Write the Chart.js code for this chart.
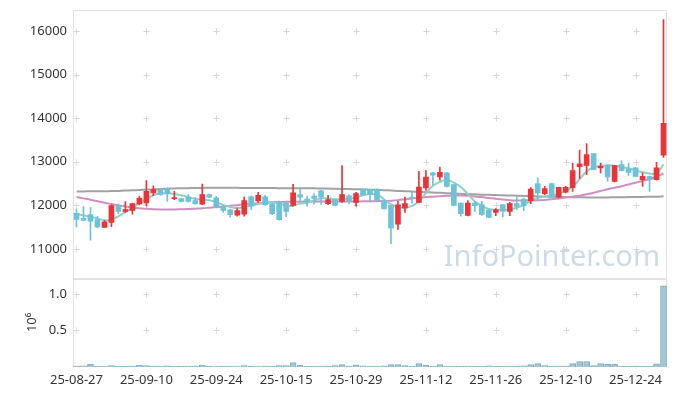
<!DOCTYPE html>
<html><head><meta charset="utf-8">
<script src="https://cdn.jsdelivr.net/npm/chart.js@4/dist/chart.umd.min.js"></script>
<style>html,body{margin:0;padding:0;background:#fff;}#wrap{width:677px;height:396px;position:relative;}</style>
</head><body><div id="wrap"><canvas id="c" width="677" height="396"></canvas></div>
<script>
const dates = ["25-08-27","25-08-28","25-08-29","25-09-01","25-09-02","25-09-03","25-09-04","25-09-05","25-09-08","25-09-09",
"25-09-10","25-09-11","25-09-12","25-09-15","25-09-16","25-09-17","25-09-18","25-09-19","25-09-22","25-09-23",
"25-09-24","25-09-25","25-09-26","25-09-29","25-09-30","25-10-01","25-10-02","25-10-10","25-10-13","25-10-14",
"25-10-15","25-10-16","25-10-17","25-10-20","25-10-21","25-10-22","25-10-23","25-10-24","25-10-27","25-10-28",
"25-10-29","25-10-30","25-10-31","25-11-03","25-11-04","25-11-05","25-11-06","25-11-07","25-11-10","25-11-11",
"25-11-12","25-11-13","25-11-14","25-11-17","25-11-18","25-11-19","25-11-20","25-11-21","25-11-24","25-11-25",
"25-11-26","25-11-27","25-11-28","25-12-01","25-12-02","25-12-03","25-12-04","25-12-05","25-12-08","25-12-09",
"25-12-10","25-12-11","25-12-12","25-12-15","25-12-16","25-12-17","25-12-18","25-12-19","25-12-22","25-12-23",
"25-12-24","25-12-26","25-12-29","25-12-30","26-01-02"];

const openP = [11820,11700,11790,11672,11495,11610,11993,11862,11885,12032,
12055,12285,12345,12375,12155,12155,12185,12110,12030,12245,
12170,11965,11900,11775,11800,12200,12100,12195,12030,12090,
12050,12000,12245,12145,12210,12335,12040,12130,12090,12220,
12070,12375,12360,12375,12108,12000,11570,11940,12190,12070,
12400,12745,12650,12745,12475,12055,11770,12055,12016,11900,
11840,12016,11862,12040,12145,12108,12500,12270,12500,12190,
12300,12405,12890,12917,13186,12858,12917,12550,12933,12835,
12858,12590,12665,12590,13150];
const highP = [11920,11970,11950,11750,11650,12015,12032,12085,12055,12210,
12566,12450,12380,12400,12320,12165,12245,12185,12490,12260,
12205,11993,11917,11940,12190,12210,12300,12230,12040,12100,
12060,12480,12380,12210,12270,12345,12230,12140,12910,12240,
12300,12380,12370,12380,12120,12000,12090,12190,12310,12780,
12800,12760,12880,12750,12480,12060,12110,12090,12090,11910,
11925,12020,12070,12205,12160,12410,12630,12435,12510,12420,
12435,12970,13270,13415,13190,12972,12933,12920,13020,12972,
12870,12743,12670,12986,16260];
const lowP = [11500,11650,11200,11480,11490,11510,11803,11840,11800,12010,
11990,12220,12230,12090,12130,12080,12075,12030,12015,12175,
11963,11840,11725,11750,11750,11900,12070,12000,11785,11660,
11740,11980,12090,11980,12030,12020,12015,11990,12070,12040,
11980,12240,12080,12080,11910,11120,11450,11840,12050,12055,
12340,12475,12575,12420,11990,11750,11760,11862,11770,11710,
11765,11735,11765,11900,11880,12040,12108,12245,12170,12170,
12285,12320,12620,12704,12810,12743,12550,12540,12790,12681,
12650,12436,12321,12580,13100];
const closeP = [11680,11655,11635,11505,11620,11995,11862,11905,12040,12160,
12320,12360,12245,12260,12180,12090,12090,12040,12245,12185,
11977,11885,11787,11880,12110,11990,12230,12015,11810,11670,
11862,12290,12185,12090,12160,12190,12130,12000,12245,12110,
12270,12245,12245,12130,11925,11482,12010,12040,12165,12420,
12650,12690,12755,12435,12000,11810,12055,11995,11787,11725,
11900,11862,12040,11977,11993,12375,12285,12385,12185,12415,
12415,12795,12950,13163,12819,12894,12651,12910,12796,12757,
12665,12665,12590,12858,13880];

const ma5 = [11800,11770,11740,11700,11660,11670,11750,11850,11940,12050,
12140,12230,12270,12285,12260,12230,12190,12150,12130,12120,
12070,12010,11960,11940,11960,11990,12030,12060,12060,12040,
11990,11990,12040,12060,12110,12160,12160,12140,12140,12150,
12180,12230,12260,12250,12140,12020,11970,11940,11990,12090,
12280,12450,12540,12590,12520,12420,12260,12090,11990,11920,
11900,11900,11900,11950,12000,12110,12170,12200,12230,12260,
12330,12430,12600,12780,12870,12910,12920,12910,12880,12850,
12800,12760,12730,12730,12940];
const ma20 = [12190,12160,12130,12095,12060,12030,12000,11975,11950,11935,
11920,11910,11905,11903,11905,11910,11915,11925,11935,11948,
11960,11975,11990,12005,12020,12035,12050,12060,12070,12075,
12080,12083,12085,12088,12090,12090,12090,12090,12090,12090,
12090,12092,12095,12098,12100,12108,12120,12140,12160,12175,
12190,12200,12210,12218,12225,12225,12220,12205,12190,12170,
12150,12135,12120,12112,12110,12112,12115,12125,12140,12160,
12180,12200,12220,12255,12290,12330,12370,12405,12440,12480,
12520,12560,12600,12660,12730];
const ma60 = [12320,12320,12322,12323,12325,12328,12332,12338,12345,12352,
12360,12368,12375,12382,12388,12392,12395,12398,12400,12402,
12403,12403,12402,12401,12400,12400,12399,12398,12396,12395,
12393,12392,12391,12390,12390,12388,12385,12382,12378,12374,
12370,12365,12360,12354,12348,12340,12332,12325,12318,12310,
12302,12295,12288,12280,12273,12265,12258,12252,12246,12241,
12236,12231,12226,12221,12216,12211,12206,12201,12197,12193,
12190,12187,12185,12183,12182,12182,12183,12185,12187,12189,
12191,12194,12197,12200,12208];

const volume = [12000,15000,37000,9000,7000,18000,11000,8000,9000,22000,
21000,9000,10000,17000,9000,10000,9000,12000,22000,8000,
6000,10000,9000,7000,18000,8000,7000,11000,10000,18000,
20000,62000,22000,10000,9000,10000,8000,18000,32000,10000,
28000,17000,9000,10000,16000,32000,32000,20000,10000,46000,
22000,10000,32000,10000,11000,9000,10000,8000,9000,16000,
8000,9000,10000,12000,17000,32000,46000,20000,10000,9000,
12000,46000,73000,73000,20000,46000,37000,37000,10000,9000,
8000,12000,10000,45000,1110000];

const priceTicks = [11000,12000,13000,14000,15000,16000];
const volumeTicks = [500000,1000000];
const xTickIdx = [0,10,20,30,40,50,60,70,80];

const UP = '#ec3338', DOWN = '#6cc3d8';
const candleColors = closeP.map((c,i)=> c >= openP[i] ? UP : DOWN);
const bodies = openP.map((o,i)=>[o, closeP[i]]);
const wicks = lowP.map((l,i)=>[l, highP[i]]);

const FONT = '"Noto Sans", "DejaVu Sans", sans-serif';

const decor = {
  id: 'decor',
  beforeDatasetsDraw(chart) {
    const {ctx, chartArea: a, scales} = chart;
    const x = scales.x, y = scales.y, yv = scales.yv;
    ctx.save();
    ctx.font = '29px ' + FONT;
    ctx.fillStyle = 'rgba(186,208,221,0.75)';
    ctx.textAlign = 'right';
    ctx.textBaseline = 'alphabetic';
    ctx.fillText('InfoPointer.com', a.right - 7, y.bottom - 12);
    ctx.strokeStyle = '#e2e2e2';
    ctx.lineWidth = 1;
    ctx.strokeRect(Math.round(a.left) + 0.5, Math.round(y.top) + 0.5, Math.round(a.right - a.left) - 1, Math.round(y.bottom - y.top));
    ctx.strokeRect(Math.round(a.left) + 0.5, Math.round(yv.top) + 1.5, Math.round(a.right - a.left) - 1, Math.round(yv.bottom - yv.top) - 2);
    ctx.strokeStyle = '#d6d6d6';
    const cross = (px, py) => {
      px = Math.round(px) + 0.5; py = Math.round(py) + 0.5;
      ctx.beginPath();
      ctx.moveTo(px - 3, py); ctx.lineTo(px + 3, py);
      ctx.moveTo(px, py - 3); ctx.lineTo(px, py + 3);
      ctx.stroke();
    };
    xTickIdx.forEach(i => {
      const px = x.getPixelForValue(i);
      priceTicks.forEach(v => cross(px, y.getPixelForValue(v)));
      volumeTicks.forEach(v => cross(px, yv.getPixelForValue(v)));
    });
    ctx.restore();
  }
};

const noPadV = s => { s.width = 73; s.paddingTop = 0; s.paddingBottom = 0; };

new Chart(document.getElementById('c'), {
  type: 'bar',
  data: {
    labels: dates,
    datasets: [
      { type: 'bar', label: 'body', data: bodies, yAxisID: 'y', backgroundColor: candleColors, borderWidth: 0,
        barThickness: 5, minBarLength: 1, grouped: false, order: 0 },
      { type: 'bar', label: 'wick', data: wicks, yAxisID: 'y', backgroundColor: candleColors, borderWidth: 0,
        barThickness: 1, grouped: false, order: 1 },
      { type: 'line', label: 'MA5', data: ma5, yAxisID: 'y', borderColor: '#8fd0c2', borderWidth: 2,
        pointRadius: 0, tension: 0.35, fill: false, order: 2 },
      { type: 'line', label: 'MA20', data: ma20, yAxisID: 'y', borderColor: '#cf8fc4', borderWidth: 2,
        pointRadius: 0, tension: 0.35, fill: false, order: 3 },
      { type: 'line', label: 'MA60', data: ma60, yAxisID: 'y', borderColor: '#a2a2a2', borderWidth: 2,
        pointRadius: 0, tension: 0.35, fill: false, order: 4 },
      { type: 'bar', label: 'volume', data: volume, yAxisID: 'yv', backgroundColor: '#a3c7d7', borderColor: '#80aac0',
        borderWidth: 1, barThickness: 6, grouped: false, order: 5 }
    ]
  },
  options: {
    responsive: false,
    animation: false,
    devicePixelRatio: 1,
    layout: { padding: { left: 0, right: 10, top: 10, bottom: 0 } },
    plugins: { legend: { display: false }, tooltip: { enabled: false } },
    scales: {
      x: {
        type: 'category',
        offset: true,
        grid: { display: false, drawTicks: false },
        border: { display: false },
        afterBuildTicks: s => { s.ticks = xTickIdx.map(v => ({ value: v })); },
        afterFit: s => { s.height = 29; s.paddingLeft = 0; s.paddingRight = 0; },
        ticks: { autoSkip: false, maxRotation: 0, minRotation: 0, padding: 5, color: '#333',
          font: { family: FONT, size: 13 }, callback: v => dates[v] }
      },
      yv: {
        type: 'linear', position: 'left', stack: 'panels', stackWeight: 1,
        min: 0, max: 1220000,
        grid: { display: false, drawTicks: false },
        border: { display: false },
        afterBuildTicks: s => { s.ticks = volumeTicks.map(v => ({ value: v })); },
        afterFit: noPadV,
        title: { display: true, text: '10⁶', color: '#333', font: { family: FONT, size: 13 }, padding: { top: 24, bottom: 0 } },
        ticks: { padding: 6, color: '#333', font: { family: FONT, size: 13 }, callback: v => (v / 1e6).toFixed(1) }
      },
      y: {
        type: 'linear', position: 'left', stack: 'panels', stackWeight: 3,
        min: 10340, max: 16480,
        grid: { display: false, drawTicks: false },
        border: { display: false },
        afterBuildTicks: s => { s.ticks = priceTicks.map(v => ({ value: v })); },
        afterFit: noPadV,
        ticks: { padding: 6, color: '#333', font: { family: FONT, size: 13 }, callback: v => String(v) }
      }
    }
  },
  plugins: [decor]
});
</script></body></html>
